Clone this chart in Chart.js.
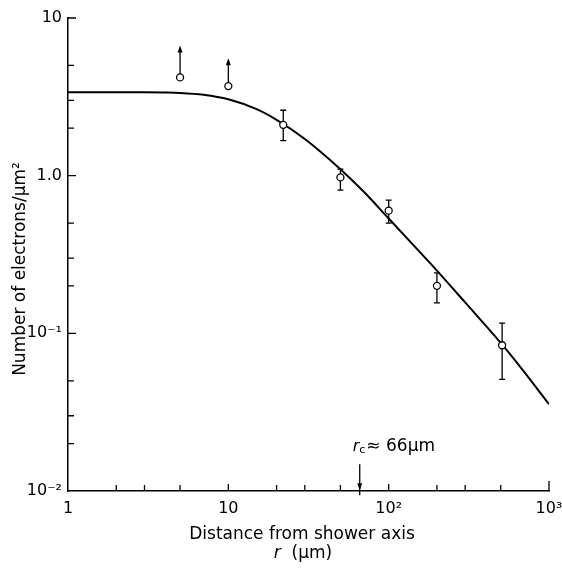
<!DOCTYPE html>
<html>
<head>
<meta charset="utf-8">
<script src="https://cdn.jsdelivr.net/npm/chart.js@4.4.1/dist/chart.umd.min.js"></script>
<style>
  html, body { margin: 0; padding: 0; background: #fff; }
</style>
</head>
<body>
<canvas id="densityChart" width="562" height="572"></canvas>
<script>
// measured electron density around the shower axis
const radii = [5, 10, 22, 50, 100, 200, 510];
const density = [4.2, 3.7, 2.1, 0.975, 0.60, 0.20, 0.084];
const errUpper = [null, null, 2.6, 1.10, 0.70, 0.242, 0.116];
const errLower = [null, null, 1.67, 0.81, 0.50, 0.156, 0.051];
// lower limits only: arrow goes up to this value
const limitTop = [6.7, 5.55, null, null, null, null, null];

// fitted lateral distribution
const curveR = [1, 2, 3, 4, 5, 7, 10, 15, 20, 30, 50, 70, 100, 150, 200, 300, 500, 700, 1000];
const curveRho = [3.38, 3.38, 3.38, 3.37, 3.35, 3.26, 3.05, 2.64, 2.26, 1.71, 1.10, 0.79, 0.535, 0.343, 0.25, 0.157, 0.087, 0.057, 0.0355];

const xTicks = [1, 10, 100, 1000];
const xTickLabels = ['1', '10', '10²', '10³'];
const yTicks = [0.01, 0.1, 1, 10];
const yTickLabels = ['10⁻²', '10⁻¹', '1.0', '10'];
const xMinor = [2, 3, 5, 20, 30, 50, 200, 300, 500];
const yMinor = [0.02, 0.03, 0.05, 0.2, 0.3, 0.5, 2, 3, 5];

// Moliere radius marker
const rcValue = 66;
const rcArrow = [0.0148, 0.0101];

const FONT = 'DejaVu Sans';

function arrow(ctx, x, yFrom, yTo) {
  ctx.beginPath();
  ctx.moveTo(x, yFrom);
  ctx.lineTo(x, yTo + 5);
  ctx.stroke();
  const dir = yTo < yFrom ? 1 : -1;
  ctx.beginPath();
  ctx.moveTo(x, yTo);
  ctx.lineTo(x - 2.5, yTo + dir * 7);
  ctx.lineTo(x + 2.5, yTo + dir * 7);
  ctx.closePath();
  ctx.fill();
}

const extras = {
  id: 'extras',
  beforeDatasetsDraw(chart) {
    const { ctx, scales: { x, y } } = chart;
    ctx.save();
    ctx.strokeStyle = '#000';
    ctx.fillStyle = '#000';
    ctx.lineWidth = 1.3;
    radii.forEach((r, i) => {
      const px = x.getPixelForValue(r);
      if (errUpper[i] != null) {
        const top = y.getPixelForValue(errUpper[i]);
        const bot = y.getPixelForValue(errLower[i]);
        ctx.beginPath();
        ctx.moveTo(px, top); ctx.lineTo(px, bot);
        ctx.moveTo(px - 3, top); ctx.lineTo(px + 3, top);
        ctx.moveTo(px - 3, bot); ctx.lineTo(px + 3, bot);
        ctx.stroke();
      }
      if (limitTop[i] != null) {
        arrow(ctx, px, y.getPixelForValue(density[i]) - 3.5, y.getPixelForValue(limitTop[i]));
      }
    });
    ctx.restore();
  },
  afterDraw(chart) {
    const { ctx, chartArea: a, scales: { x, y } } = chart;
    ctx.save();
    ctx.strokeStyle = '#000';
    ctx.fillStyle = '#000';
    ctx.lineWidth = 1.3;

    // inward tick marks
    ctx.beginPath();
    xMinor.forEach(v => {
      const px = x.getPixelForValue(v);
      ctx.moveTo(px, a.bottom); ctx.lineTo(px, a.bottom - 6);
    });
    xTicks.slice(1).forEach(v => {
      const px = x.getPixelForValue(v);
      ctx.moveTo(px, a.bottom); ctx.lineTo(px, a.bottom - (v === 1000 ? 10 : 7));
    });
    yMinor.forEach(v => {
      const py = y.getPixelForValue(v);
      ctx.moveTo(a.left, py); ctx.lineTo(a.left + 6, py);
    });
    yTicks.slice(1).forEach(v => {
      const py = y.getPixelForValue(v);
      ctx.moveTo(a.left, py); ctx.lineTo(a.left + 8, py);
    });
    ctx.stroke();

    // r_c arrow and label
    const rx = x.getPixelForValue(rcValue);
    arrow(ctx, rx, y.getPixelForValue(rcArrow[0]), y.getPixelForValue(rcArrow[1]));
    let tx = rx - 7;
    const ty = 451;
    ctx.textBaseline = 'alphabetic';
    ctx.textAlign = 'left';
    ctx.font = `italic 16px ${FONT}`;
    ctx.fillText('r', tx, ty);
    tx += ctx.measureText('r').width;
    ctx.font = `11px ${FONT}`;
    ctx.fillText('c', tx, ty + 2);
    tx += ctx.measureText('c').width + 1;
    ctx.font = `17px ${FONT}`;
    ctx.fillText('≈ 66μm', tx, ty);

    // axis titles
    ctx.font = `17px ${FONT}`;
    ctx.textBaseline = 'middle';
    ctx.textAlign = 'center';
    ctx.fillText('Distance from shower axis', 302, 535);

    ctx.textAlign = 'left';
    ctx.font = `italic 17px ${FONT}`;
    const rw = ctx.measureText('r  ').width;
    ctx.font = `17px ${FONT}`;
    const uw = ctx.measureText('(μm)').width;
    const lx = 303 - (rw + uw) / 2;
    ctx.font = `italic 17px ${FONT}`;
    ctx.fillText('r  ', lx, 554);
    ctx.font = `17px ${FONT}`;
    ctx.fillText('(μm)', lx + rw, 554);

    ctx.translate(21, 269);
    ctx.rotate(-Math.PI / 2);
    ctx.textAlign = 'center';
    ctx.fillText('Number of electrons/μm²', 0, 0);
    ctx.restore();
  }
};

const ctx = document.getElementById('densityChart').getContext('2d');

new Chart(ctx, {
  type: 'scatter',
  data: {
    datasets: [
      {
        label: 'measured',
        data: radii.map((r, i) => ({ x: r, y: density[i] })),
        pointRadius: 3.5,
        pointBackgroundColor: '#fff',
        pointBorderColor: '#000',
        pointBorderWidth: 1.3,
        showLine: false
      },
      {
        label: 'fit',
        data: curveR.map((r, i) => ({ x: r, y: curveRho[i] })),
        showLine: true,
        borderColor: '#000',
        borderWidth: 2,
        pointRadius: 0,
        cubicInterpolationMode: 'monotone'
      }
    ]
  },
  options: {
    responsive: false,
    animation: false,
    layout: { padding: { top: 18, right: 13, left: 0, bottom: 0 } },
    plugins: {
      legend: { display: false },
      tooltip: { enabled: false }
    },
    scales: {
      x: {
        type: 'logarithmic',
        min: 1,
        max: 1000,
        afterBuildTicks: s => { s.ticks = xTicks.map(v => ({ value: v })); },
        afterFit: s => { s.height = 81; s.paddingLeft = 0; s.paddingRight = 0; },
        grid: { display: false, drawTicks: false },
        border: { color: '#000', width: 1.5 },
        ticks: {
          padding: 8,
          color: '#000',
          autoSkip: false,
          maxRotation: 0,
          font: { family: FONT, size: 16 },
          callback: v => xTickLabels[xTicks.indexOf(v)] ?? ''
        }
      },
      y: {
        type: 'logarithmic',
        min: 0.01,
        max: 10,
        afterBuildTicks: s => { s.ticks = yTicks.map(v => ({ value: v })); },
        afterFit: s => { s.width = 68; s.paddingTop = 0; s.paddingBottom = 0; },
        grid: { display: false, drawTicks: false },
        border: { color: '#000', width: 1.5 },
        ticks: {
          padding: 6,
          color: '#000',
          autoSkip: false,
          font: { family: FONT, size: 16 },
          callback: v => yTickLabels[yTicks.indexOf(v)] ?? ''
        }
      }
    }
  },
  plugins: [extras]
});
</script>
</body>
</html>
